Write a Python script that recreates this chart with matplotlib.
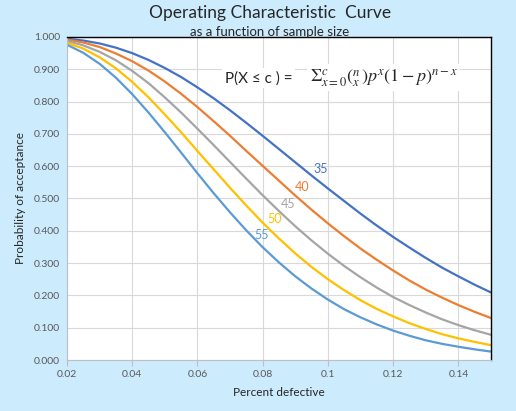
import matplotlib
matplotlib.use('Agg')
import matplotlib.pyplot as plt
from matplotlib.ticker import FixedLocator
import numpy as np

# percent defective (x axis)
pct = [0.02, 0.025, 0.03, 0.035, 0.04, 0.045, 0.05, 0.055, 0.06, 0.065, 0.07,
       0.075, 0.08, 0.085, 0.09, 0.095, 0.10, 0.105, 0.11, 0.115, 0.12, 0.125,
       0.13, 0.135, 0.14, 0.145, 0.15]

# probability of acceptance
pa_35 = [0.995, 0.989, 0.980, 0.967, 0.950, 0.929, 0.904, 0.876, 0.844, 0.810,
         0.773, 0.734, 0.694, 0.653, 0.612, 0.571, 0.531, 0.492, 0.453, 0.416,
         0.381, 0.348, 0.316, 0.286, 0.259, 0.233, 0.209]
pa_40 = [0.992, 0.983, 0.969, 0.949, 0.925, 0.896, 0.862, 0.824, 0.783, 0.739,
         0.694, 0.647, 0.601, 0.555, 0.509, 0.465, 0.423, 0.383, 0.345, 0.310,
         0.277, 0.246, 0.218, 0.193, 0.170, 0.149, 0.130]
pa_45 = [0.988, 0.974, 0.954, 0.928, 0.895, 0.857, 0.813, 0.766, 0.716, 0.665,
         0.613, 0.561, 0.510, 0.461, 0.414, 0.370, 0.329, 0.291, 0.256, 0.224,
         0.195, 0.170, 0.147, 0.126, 0.108, 0.092, 0.078]
pa_50 = [0.982, 0.964, 0.937, 0.903, 0.861, 0.813, 0.760, 0.705, 0.647, 0.590,
         0.533, 0.478, 0.425, 0.376, 0.330, 0.288, 0.250, 0.216, 0.185, 0.158,
         0.135, 0.114, 0.096, 0.080, 0.067, 0.056, 0.046]
pa_55 = [0.976, 0.951, 0.917, 0.874, 0.823, 0.766, 0.705, 0.642, 0.578, 0.516,
         0.457, 0.401, 0.349, 0.302, 0.259, 0.221, 0.187, 0.157, 0.132, 0.110,
         0.091, 0.075, 0.061, 0.050, 0.041, 0.033, 0.026]

series = [("35", pa_35, "#4472C4"), ("40", pa_40, "#ED7D31"),
          ("45", pa_45, "#A5A5A5"), ("50", pa_50, "#FFC000"),
          ("55", pa_55, "#5B9BD5")]
label_pos = {"35": (0.0979, 0.591), "40": (0.0920, 0.536), "45": (0.0878, 0.483),
             "50": (0.0835, 0.437), "55": (0.0798, 0.387)}

plt.rcParams['font.family'] = ['Lato', 'DejaVu Sans']
plt.rcParams['mathtext.fontset'] = 'stix'
bg = '#CCEBFC'

fig = plt.figure(figsize=(5.16, 4.11), dpi=100, facecolor=bg)
ax = fig.add_axes([67/516, 1-360/411, 424/516, 323/411])
ax.set_facecolor('white')

for name, vals, col in series:
    ax.plot(pct, vals, color=col, lw=1.6, solid_capstyle='round')
    lx, ly = label_pos[name]
    ax.text(lx, ly, name, color=col, fontsize=9, ha='center', va='center')

ax.set_xlim(0.02, 0.15)
ax.set_ylim(0, 1.0)
ax.xaxis.set_major_locator(FixedLocator([0.02, 0.04, 0.06, 0.08, 0.10, 0.12, 0.14]))
ax.set_xticklabels(['0.02', '0.04', '0.06', '0.08', '0.1', '0.12', '0.14'])
yt = np.arange(0, 1.01, 0.1)
ax.set_yticks(yt)
ax.set_yticklabels(['%.3f' % v for v in yt])
ax.grid(True, color='#D9D9D9', lw=0.8)
ax.set_axisbelow(True)
ax.tick_params(axis='x', colors='#BFBFBF', labelcolor='#595959', labelsize=7.5,
               length=4, width=0.8, pad=3)
ax.tick_params(axis='y', length=0, labelcolor='#595959', labelsize=7.5, pad=5)
for s in ['left', 'bottom']:
    ax.spines[s].set_color('#BFBFBF')
    ax.spines[s].set_linewidth(0.8)
for s in ['top', 'right']:
    ax.spines[s].set_color('black')
    ax.spines[s].set_linewidth(1.0)

ax.set_xlabel('Percent defective', fontsize=8.5, color='#262626', labelpad=6)
ax.set_ylabel('Probability of acceptance', fontsize=8.5, color='#262626', labelpad=6)

fig.text(270/516, 1-13/411, 'Operating Characteristic  Curve', fontsize=12.5,
         ha='center', va='center', color='#262626')
fig.text(270/516, 1-32/411, 'as a function of sample size', fontsize=9.5,
         ha='center', va='center', color='#262626')

box = dict(facecolor='white', edgecolor='none', pad=2)
ax.text(0.0684, 0.872, 'P(X ≤ c ) =', fontsize=11, ha='left', va='center',
        color='#262626', bbox=box)
ax.text(0.0945, 0.874,
        r'$\Sigma_{x=0}^{c}\binom{n}{x}p^{x}(1-p)^{n-x}$',
        fontsize=13, ha='left', va='center', color='#262626', bbox=box)

fig.savefig('out.png', dpi=100, facecolor=bg)
